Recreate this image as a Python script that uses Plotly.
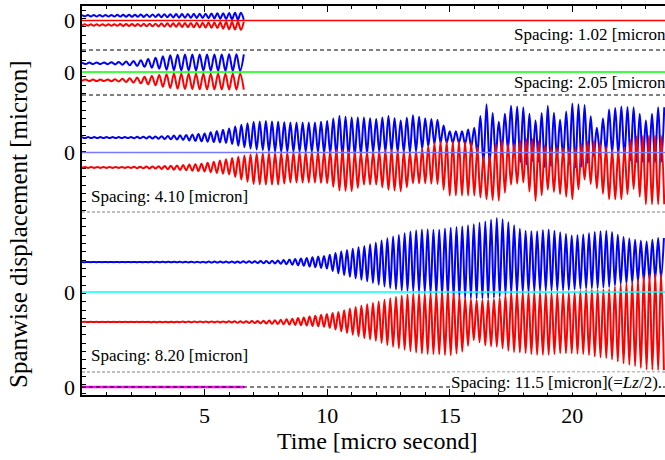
import numpy as np
import plotly.graph_objects as go

# ---------------- data (micron, micro second) ----------------
T_END = 23.78
T_SHORT = 6.63

# Panel 1: spacing 1.02 micron
T1 = [0, 1, 2, 2.5, 3, 4, 5, 5.5, 6, 6.63]
B1_TOP = [0.59, 0.60, 0.63, 0.65, 0.67, 0.70, 0.74, 0.78, 0.82, 0.85]
B1_BOT = [0.45, 0.44, 0.41, 0.39, 0.37, 0.31, 0.26, 0.22, 0.15, 0.09]
R1_TOP = [-0.42, -0.41, -0.38, -0.36, -0.34, -0.28, -0.24, -0.20, -0.16, -0.13]
R1_BOT = [-0.56, -0.57, -0.60, -0.62, -0.64, -0.70, -0.76, -0.82, -0.95, -1.03]
P1_PERIOD = 0.24

# Panel 2: spacing 2.05 micron
T2 = [0, 1, 1.5, 2, 2.5, 3, 3.5, 4, 5, 6, 6.63]
B2_TOP = [1.13, 1.15, 1.20, 1.30, 1.45, 1.72, 2.00, 2.10, 2.10, 2.13, 2.13]
B2_BOT = [0.97, 0.95, 0.90, 0.80, 0.65, 0.45, 0.25, 0.18, 0.16, 0.16, 0.16]
R2_TOP = [-0.92, -0.90, -0.85, -0.75, -0.60, -0.42, -0.25, -0.20, -0.20, -0.20, -0.20]
R2_BOT = [-1.08, -1.10, -1.15, -1.25, -1.40, -1.60, -1.90, -2.05, -2.10, -2.13, -2.13]
P2_PERIOD = 0.30

# Panel 3: spacing 4.10 micron
T3 = [0, 2, 3, 4, 5, 6, 6.5, 7, 7.5, 8, 8.5, 9, 9.5, 10, 10.5, 11, 11.5, 12, 12.5,
      13, 13.5, 14, 14.5, 15, 15.5, 16, 16.5, 17, 17.5, 18, 18.5, 19, 19.5, 20,
      20.5, 21, 21.5, 22, 22.5, 23, 23.5, 23.8]
B3_TOP = [2.12, 2.13, 2.2, 2.35, 2.6, 3.3, 3.8, 4.2, 4.3, 4.2, 4.1, 4.1, 4.1, 4.3,
          5.0, 4.8, 4.8, 4.6, 5.0, 4.4, 5.1, 4.7, 4.5, 2.9, 2.9, 3.4, 6.6, 4.2,
          6.4, 6.2, 4.4, 6.4, 4.5, 6.7, 6.5, 3.4, 5.9, 6.3, 6.2, 4.4, 6.2, 6.2]
B3_BOT = [1.98, 1.97, 1.9, 1.75, 1.5, 1.3, 0.8, 0.45, 0.25, 0.1, 0.1, 0.1, 0.1, -0.1,
          -0.5, -0.5, -0.2, 0.1, 0.1, 0.1, 0.0, 0.7, 1.3, 1.3, 1.3, 0.6, -2.3, 0.1,
          0.4, -1.9, -0.9, -2.4, -0.2, -2.1, -1.9, 0.0, 0.0, -0.4, -1.3, -1.3, -1.3, -1.3]
R3_TOP = [-1.98, -1.97, -1.9, -1.75, -1.5, -0.85, -0.5, -0.2, -0.1, -0.1, 0.0, 0.0,
          0.0, 0.1, 0.5, 0.2, 0.0, 0.1, 0.4, 0.2, -0.1, 0.7, 1.5, 1.5, 1.5, 1.4,
          -1.2, 2.0, 0.9, 1.8, 1.8, 0.7, 0.7, 0.4, 1.4, 1.6, 0.5, 0.2, 2.2, 2.3, 2.3, 2.3]
R3_BOT = [-2.12, -2.13, -2.2, -2.4, -2.6, -3.0, -3.7, -4.3, -4.4, -4.4, -4.1, -4.1,
          -4.1, -4.2, -5.2, -5.3, -4.4, -4.4, -5.1, -5.3, -4.2, -4.2, -4.3, -5.9,
          -5.9, -5.9, -6.4, -6.6, -4.4, -4.1, -6.6, -5.1, -5.7, -6.4, -3.7, -4.9,
          -6.4, -6.4, -5.0, -7.1, -7.1, -7.1]
P3_PERIOD = 0.25

# Panel 4: spacing 8.20 micron
T4 = [0, 2, 4, 6, 7, 8, 9, 10, 10.5, 11, 11.5, 12, 12.5, 13, 13.5, 14, 14.5, 15,
      15.5, 16, 16.5, 17, 17.5, 18, 18.5, 19, 19.5, 20, 20.5, 21, 21.5, 22, 22.5,
      23, 23.5, 23.8]
B4_TOP = [4.12, 4.12, 4.14, 4.18, 4.22, 4.3, 4.6, 5.0, 5.5, 5.9, 6.3, 6.8, 7.4,
          7.9, 8.4, 8.6, 8.5, 8.8, 9.0, 9.3, 9.7, 10.2, 9.4, 8.4, 8.3, 8.6, 8.2,
          7.7, 7.9, 8.3, 8.4, 7.6, 7.2, 6.9, 7.4, 7.4]
B4_BOT = [4.08, 4.08, 4.06, 4.02, 3.98, 3.9, 3.6, 3.2, 2.5, 2.0, 1.6, 1.1, 0.6,
          0.2, 0.1, -0.1, -0.4, -0.6, -0.8, -0.9, -0.9, -0.7, -0.2, -0.1, 0.1,
          0.2, 0.2, 0.3, 0.5, 0.5, 0.7, 1.1, 1.3, 1.6, 1.9, 1.9]
R4_TOP = [-4.08, -4.08, -4.06, -4.02, -3.98, -3.85, -3.5, -3.0, -2.7, -2.2, -1.8,
          -1.4, -0.9, -0.5, -0.2, -0.2, 0.0, 0.2, -0.7, -1.1, -1.1, -0.9, 0.0,
          0.0, 0.0, -0.1, -0.1, -0.1, 0.3, 0.3, 0.4, 1.1, 1.4, 2.4, 2.5, 2.5]
R4_BOT = [-4.12, -4.12, -4.14, -4.18, -4.25, -4.4, -4.55, -4.8, -5.3, -5.8, -6.3,
          -6.7, -7.3, -7.8, -8.2, -8.5, -8.5, -8.7, -8.2, -6.5, -7.4, -7.5, -8.2,
          -8.3, -8.6, -8.6, -8.4, -8.4, -8.5, -8.9, -9.1, -9.7, -10.1, -10.6,
          -10.7, -10.7]
P4_PERIOD = 0.235

SPACING_LABELS = ["Spacing: 1.02 [micron]", "Spacing: 2.05 [micron]",
                  "Spacing: 4.10 [micron]", "Spacing: 8.20 [micron]",
                  "Spacing: 11.5 [micron](=<i>Lz</i>/2)."]
X_TICKS = [5, 10, 15, 20]

# ---------------- figure ----------------
FONT = "Liberation Serif, Times New Roman, serif"
BLUE = "#0000ff"
RED = "#ff0000"


def oscillation(T, top, bot, period, t_end):
    tk = np.arange(0.0, t_end + 1e-9, period / 2.0)
    up = np.interp(tk, T, top)
    lo = np.interp(tk, T, bot)
    y = np.where(np.arange(len(tk)) % 2 == 0, up, lo)
    return tk, y


fig = go.Figure()

# frame axis dummy trace
fig.add_trace(go.Scatter(x=[0], y=[0], mode="markers", marker=dict(opacity=0),
                         hoverinfo="skip", showlegend=False, xaxis="x", yaxis="y"))

panels = [
    ("y2", T1, B1_TOP, B1_BOT, R1_TOP, R1_BOT, P1_PERIOD, T_SHORT, RED),
    ("y3", T2, B2_TOP, B2_BOT, R2_TOP, R2_BOT, P2_PERIOD, T_SHORT, "#00ff00"),
    ("y4", T3, B3_TOP, B3_BOT, R3_TOP, R3_BOT, P3_PERIOD, T_END, "#7878ff"),
    ("y5", T4, B4_TOP, B4_BOT, R4_TOP, R4_BOT, P4_PERIOD, T_END, "#00ffff"),
]
for ax, T, bt, bb, rt, rb, per, tend, zc in panels:
    xb, yb = oscillation(T, bt, bb, per, tend)
    xr, yr = oscillation(T, rb, rt, per, tend)
    fig.add_trace(go.Scatter(x=xb, y=yb, mode="lines", yaxis=ax, showlegend=False,
                             line=dict(color=BLUE, width=2, shape="spline", smoothing=1)))
    fig.add_trace(go.Scatter(x=xr, y=yr, mode="lines", yaxis=ax, showlegend=False,
                             line=dict(color=RED, width=2, shape="spline", smoothing=1)))
    fig.add_trace(go.Scatter(x=[0, T_END], y=[0, 0], mode="lines", yaxis=ax,
                             showlegend=False, line=dict(color=zc, width=1.5)))

# panel 5
fig.add_trace(go.Scatter(x=[0, T_SHORT], y=[0, 0], mode="lines", yaxis="y6",
                         showlegend=False, line=dict(color="#ff00ff", width=2.5)))
fig.add_trace(go.Scatter(x=[0, T_END], y=[0, 0], mode="lines", yaxis="y6",
                         showlegend=False, line=dict(color="black", width=1, dash="4px,3px")))

# layout geometry (pixels of the plot area: top 6, bottom 395, height 389)
H = 389.0
def pf(py):
    return (395.0 - py) / H

panel_axis = dict(showline=False, showgrid=False, zeroline=False, ticks="",
                  tickvals=[0], ticktext=["0"], anchor="x",
                  tickfont=dict(family=FONT, size=22, color="black"),
                  ticklabelstandoff=6)

layout = dict(
    width=665, height=460,
    margin=dict(l=82, r=0, t=6, b=65),
    paper_bgcolor="white", plot_bgcolor="rgba(0,0,0,0)",
    font=dict(family=FONT, color="black"),
    showlegend=False,
    xaxis=dict(range=[0, T_END], domain=[0, 1], anchor="y", showline=True,
               linewidth=2, linecolor="black", mirror="ticks", ticks="inside",
               ticklen=6, tickwidth=1, tickcolor="black", tickvals=X_TICKS,
               ticktext=[str(v) for v in X_TICKS], showgrid=False, zeroline=False,
               tickfont=dict(family=FONT, size=22, color="black"),
               ticklabelstandoff=0,
               minor=dict(dtick=1, tick0=0, ticks="inside", ticklen=3,
                          tickwidth=1, tickcolor="black", showgrid=False)),
    yaxis=dict(range=[0, H], domain=[0, 1], anchor="x", showline=True, linewidth=2,
               linecolor="black", ticks="inside", ticklen=4, tickwidth=1,
               tickcolor="black", tick0=1.7, dtick=8.33, showticklabels=False,
               showgrid=False, zeroline=False),
    yaxis2=dict(panel_axis, domain=[pf(50), 1.0], range=[-29.5 / 9.2, 14.5 / 9.2]),
    yaxis3=dict(panel_axis, domain=[pf(95), pf(50)], range=[-23 / 8.3, 22 / 8.3]),
    yaxis4=dict(panel_axis, domain=[pf(212), pf(95)], range=[-59.5 / 7.3, 57.5 / 7.3]),
    yaxis5=dict(panel_axis, domain=[pf(372), pf(212)], range=[-80 / 7.3, 80 / 7.3]),
    yaxis6=dict(panel_axis, domain=[0, pf(372)], range=[-8 / 7.3, 15 / 7.3]),
)
fig.update_layout(**layout)

# separators
for py, col, dash in [(50, "black", "4px,3px"), (95, "black", "4px,3px"),
                      (212, "#808080", "3px,2px"), (372, "#808080", "3px,2px")]:
    fig.add_shape(type="line", xref="paper", yref="paper", x0=0, x1=1,
                  y0=pf(py), y1=pf(py), line=dict(color=col, width=1, dash=dash))

def px2t(px):
    return (px - 82.0) / (583.0 / T_END)

ann_pos = [(513, 35), (513, 83), (90, 196.5), (90, 355), (450, 382)]
for (axp, ayp), txt in zip(ann_pos, SPACING_LABELS):
    fig.add_annotation(x=px2t(axp), y=pf(ayp), xref="x", yref="paper", text=txt,
                       showarrow=False, xanchor="left", yanchor="middle",
                       font=dict(family=FONT, size=17, color="black"),
                       bgcolor="white" if "11.5" in txt else "rgba(0,0,0,0)",
                       borderpad=0)

# axis titles
fig.add_annotation(x=(377 - 82) / 583.0, y=pf(441), xref="paper", yref="paper",
                   text="Time [micro second]", showarrow=False,
                   xanchor="center", yanchor="middle",
                   font=dict(family=FONT, size=24, color="black"))
fig.add_annotation(x=(18 - 82) / 583.0, y=pf(224), xref="paper", yref="paper",
                   text="Spanwise displacement [micron]", showarrow=False,
                   xanchor="center", yanchor="middle",
                   textangle=-90, font=dict(family=FONT, size=25, color="black"))

fig.write_html("out.html", config={"displayModeBar": False},
               post_script="document.body.style.margin='0px';"
                           "document.body.style.overflow='hidden';")
